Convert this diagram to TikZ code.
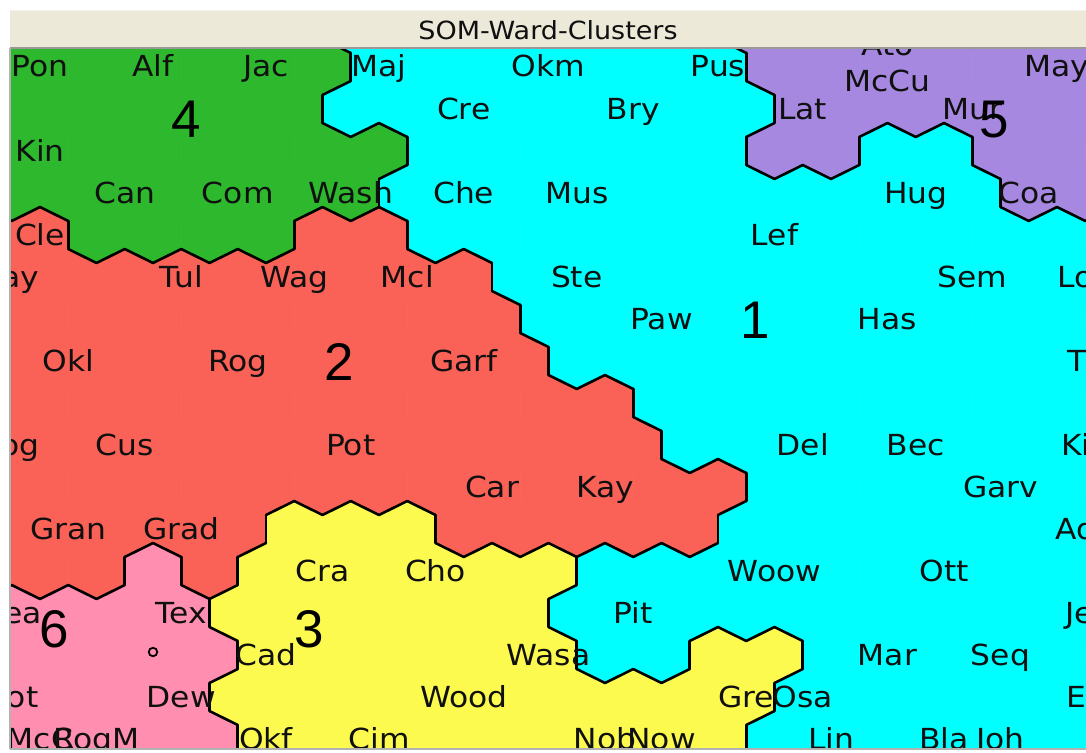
\documentclass[tikz,border=0pt]{standalone}
\usepackage{fontspec}
\setmainfont[FakeStretch=1.08]{DejaVu Sans}
\newfontfamily\numfont{Liberation Sans}
\definecolor{c1}{RGB}{0,255,255}
\definecolor{c2}{RGB}{250,98,88}
\definecolor{c3}{RGB}{252,250,78}
\definecolor{c4}{RGB}{46,184,46}
\definecolor{c5}{RGB}{166,136,224}
\definecolor{c6}{RGB}{255,142,176}
\definecolor{barbg}{RGB}{236,233,216}
\definecolor{txt}{RGB}{16,16,16}
\expandafter\def\csname R0\endcsname{{4,4,4,4,4,4,1,1,1,1,1,1,1,5,5,5,5,5,5,5,5}}
\expandafter\def\csname R1\endcsname{{4,4,4,4,4,4,4,1,1,1,1,1,1,1,5,5,5,5,5,5,5}}
\expandafter\def\csname R2\endcsname{{4,4,4,4,4,4,1,1,1,1,1,1,1,1,5,5,5,5,5,5,5}}
\expandafter\def\csname R3\endcsname{{4,4,4,4,4,4,4,4,1,1,1,1,1,1,5,5,1,1,5,5,5}}
\expandafter\def\csname R4\endcsname{{4,4,4,4,4,4,4,1,1,1,1,1,1,1,1,1,1,1,5,5,5}}
\expandafter\def\csname R5\endcsname{{2,2,4,4,4,4,2,2,1,1,1,1,1,1,1,1,1,1,1,1,1}}
\expandafter\def\csname R6\endcsname{{2,2,2,2,2,2,2,2,2,1,1,1,1,1,1,1,1,1,1,1,1}}
\expandafter\def\csname R7\endcsname{{2,2,2,2,2,2,2,2,2,2,1,1,1,1,1,1,1,1,1,1,1}}
\expandafter\def\csname R8\endcsname{{2,2,2,2,2,2,2,2,2,2,1,1,1,1,1,1,1,1,1,1,1}}
\expandafter\def\csname R9\endcsname{{2,2,2,2,2,2,2,2,2,2,2,2,1,1,1,1,1,1,1,1,1}}
\expandafter\def\csname R10\endcsname{{2,2,2,2,2,2,2,2,2,2,2,2,1,1,1,1,1,1,1,1,1}}
\expandafter\def\csname R11\endcsname{{2,2,2,2,2,2,2,2,2,2,2,2,2,2,1,1,1,1,1,1,1}}
\expandafter\def\csname R12\endcsname{{2,2,2,2,2,3,3,3,2,2,2,2,2,1,1,1,1,1,1,1,1}}
\expandafter\def\csname R13\endcsname{{2,2,2,6,2,3,3,3,3,3,3,1,1,1,1,1,1,1,1,1,1}}
\expandafter\def\csname R14\endcsname{{6,6,6,6,3,3,3,3,3,3,1,1,1,1,1,1,1,1,1,1,1}}
\expandafter\def\csname R15\endcsname{{6,6,6,6,6,3,3,3,3,3,3,1,1,3,3,1,1,1,1,1,1}}
\expandafter\def\csname R16\endcsname{{6,6,6,6,3,3,3,3,3,3,3,3,3,3,1,1,1,1,1,1,1}}
\expandafter\def\csname R17\endcsname{{6,6,6,6,6,3,3,3,3,3,3,3,3,3,1,1,1,1,1,1,1}}
\newcommand\lab[4]{\node[lbl] (#1) at (#2,#3+10) {#4};}
\begin{document}
\begin{tikzpicture}[x=1pt,y=-1pt,
  bd/.style={black,line width=2.6pt,line cap=round},
  lbl/.style={anchor=base,inner sep=0pt,text=txt,font=\fontsize{29}{29}\selectfont},
  cnum/.style={anchor=base,inner sep=0pt,text=black,font=\numfont\fontsize{53}{53}\selectfont}]
\useasboundingbox (0,0) rectangle (1086,752);
\fill[white] (0,0) rectangle (1086,752);
% title bar
\fill[barbg] (10,10) rectangle (1086,48);
\draw[white!90!gray,line width=1pt] (10,10.5) -- (1086,10.5);
\node[anchor=center,inner sep=0pt,font=\fontsize{25}{25}\selectfont,text=txt] (title) at (548,30) {SOM-Ward-Clusters};
\begin{scope}
\clip (11,49) rectangle (1086,748);
% hex cells
\foreach \i in {0,...,17}{
 \foreach \j in {0,...,20}{
  \pgfmathsetmacro\cy{25+42*\i}
  \ifodd\i\relax \pgfmathsetmacro\cx{-16.5+56.5*\j}\else\pgfmathsetmacro\cx{11.75+56.5*\j}\fi
  \edef\rowA{\csname R\i\endcsname}
  \pgfmathtruncatemacro\vA{\rowA[\j]}
  \filldraw[fill=c\vA,draw=c\vA,line width=0.8pt] (\cx,\cy-28) -- (\cx+28.25,\cy-14) -- (\cx+28.25,\cy+14) -- (\cx,\cy+28) -- (\cx-28.25,\cy+14) -- (\cx-28.25,\cy-14) -- cycle;
 }
}
% cluster borders
\foreach \i in {0,...,17}{
 \foreach \j in {0,...,20}{
  \pgfmathsetmacro\cy{25+42*\i}
  \ifodd\i\relax \pgfmathsetmacro\cx{-16.5+56.5*\j}\else\pgfmathsetmacro\cx{11.75+56.5*\j}\fi
  \edef\rowA{\csname R\i\endcsname}
  \pgfmathtruncatemacro\vA{\rowA[\j]}
  \ifnum\j<20\relax
    \pgfmathtruncatemacro\vR{\rowA[\j+1]}
    \ifnum\vA=\vR\relax\else\draw[bd] (\cx+28.25,\cy-14) -- (\cx+28.25,\cy+14);\fi
  \fi
  \ifnum\i<17\relax
    \pgfmathtruncatemacro\ip{\i+1}
    \edef\rowB{\csname R\ip\endcsname}
    \ifodd\i\relax
      \pgfmathtruncatemacro\vLR{\rowB[\j]}
      \ifnum\j>0\relax\pgfmathtruncatemacro\vLL{\rowB[\j-1]}\else\let\vLL\vA\fi
    \else
      \ifnum\j<20\relax\pgfmathtruncatemacro\vLR{\rowB[\j+1]}\else\let\vLR\vA\fi
      \pgfmathtruncatemacro\vLL{\rowB[\j]}
    \fi
    \ifnum\vA=\vLR\relax\else\draw[bd] (\cx+28.25,\cy+14) -- (\cx,\cy+28);\fi
    \ifnum\vA=\vLL\relax\else\draw[bd] (\cx,\cy+28) -- (\cx-28.25,\cy+14);\fi
  \fi
 }
}
% labels
\lab{Pon}{40}{67}{Pon}
\lab{Alf}{153}{67}{Alf}
\lab{Jac}{266}{67}{Jac}
\lab{Maj}{379}{67}{Maj}
\lab{Okm}{548.5}{67}{Okm}
\lab{Pus}{718}{67}{Pus}
\lab{May}{1057}{67}{May}
\node[lbl] (Ato) at (887.5,56) {Ato};
\node[lbl] (McCu) at (887.5,92) {McCu};
\lab{Cre}{463.75}{109}{Cre}
\lab{Bry}{633.25}{109}{Bry}
\lab{Lat}{802.75}{109}{Lat}
\lab{Mur}{972.25}{109}{Mur}
\lab{Kin}{40}{151}{Kin}
\lab{Can}{124.75}{193}{Can}
\lab{Com}{237.75}{193}{Com}
\lab{Wash}{350.75}{193}{Wash}
\lab{Che}{463.75}{193}{Che}
\lab{Mus}{576.75}{193}{Mus}
\lab{Hug}{915.75}{193}{Hug}
\lab{Coa}{1028.75}{193}{Coa}
\lab{Cle}{40}{235}{Cle}
\lab{Lef}{774.5}{235}{Lef}
\lab{Pay}{11.75}{277}{Pay}
\lab{Tul}{181.25}{277}{Tul}
\lab{Wag}{294.25}{277}{Wag}
\lab{Mcl}{407.25}{277}{Mcl}
\lab{Ste}{576.75}{277}{Ste}
\lab{Sem}{972.25}{277}{Sem}
\lab{Lov}{1085.25}{277}{Lov}
\lab{Paw}{661.5}{319}{Paw}
\lab{Has}{887.5}{319}{Has}
\lab{Okl}{68.25}{361}{Okl}
\lab{Rog}{237.75}{361}{Rog}
\lab{Garf}{463.75}{361}{Garf}
\lab{Til}{1085.25}{361}{Til}
\lab{Log}{11.75}{445}{Log}
\lab{Cus}{124.75}{445}{Cus}
\lab{Pot}{350.75}{445}{Pot}
\lab{Del}{802.75}{445}{Del}
\lab{Bec}{915.75}{445}{Bec}
\lab{Kio}{1085.25}{445}{Kio}
\lab{Car}{492}{487}{Car}
\lab{Kay}{605}{487}{Kay}
\lab{Garv}{1000.5}{487}{Garv}
\lab{Gran}{68.25}{529}{Gran}
\lab{Grad}{181.25}{529}{Grad}
\lab{Ada}{1085.25}{529}{Ada}
\lab{Cra}{322.5}{571}{Cra}
\lab{Cho}{435.5}{571}{Cho}
\lab{Woow}{774.5}{571}{Woow}
\lab{Ott}{944}{571}{Ott}
\lab{Bea}{11.75}{613}{Bea}
\lab{Tex}{181.25}{613}{Tex}
\lab{Pit}{633.25}{613}{Pit}
\lab{Jef}{1085.25}{613}{Jef}
\lab{Cad}{266}{655}{Cad}
\lab{Wasa}{548.5}{655}{Wasa}
\lab{Mar}{887.5}{655}{Mar}
\lab{Seq}{1000.5}{655}{Seq}
\lab{Cot}{11.75}{697}{Cot}
\lab{Dew}{181.25}{697}{Dew}
\lab{Wood}{463.75}{697}{Wood}
\lab{Gre}{746.25}{697}{Gre}
\lab{Osa}{802.75}{697}{Osa}
\lab{Ell}{1085.25}{697}{Ell}
\lab{McC}{40}{739}{McC}
\lab{RogM}{96.5}{739}{RogM}
\lab{Okf}{266}{739}{Okf}
\lab{Cim}{379}{739}{Cim}
\lab{Nob}{605}{739}{Nob}
\lab{Now}{661.5}{739}{Now}
\lab{Lin}{831}{739}{Lin}
\lab{Bla}{944}{739}{Bla}
\lab{Joh}{1000.5}{739}{Joh}
\node[draw=black,line width=1.8pt,circle,inner sep=0pt,minimum size=8.5pt] (dot) at (153,652) {};
% cluster numbers
\node[cnum] (n4) at (186,137) {4};
\node[cnum] (n5) at (994,137) {5};
\node[cnum] (n1) at (755,338) {1};
\node[cnum] (n2) at (339,380) {2};
\node[cnum] (n3) at (309,647) {3};
\node[cnum] (n6) at (54,647) {6};
\end{scope}
% frame lines
\draw[gray!80,line width=1.5pt] (10,48) -- (1086,48);
\draw[gray!60,line width=1.5pt] (10,48) -- (10,749);
\draw[gray!60,line width=1.5pt] (10,749) -- (1086,749);
\end{tikzpicture}
\end{document}
